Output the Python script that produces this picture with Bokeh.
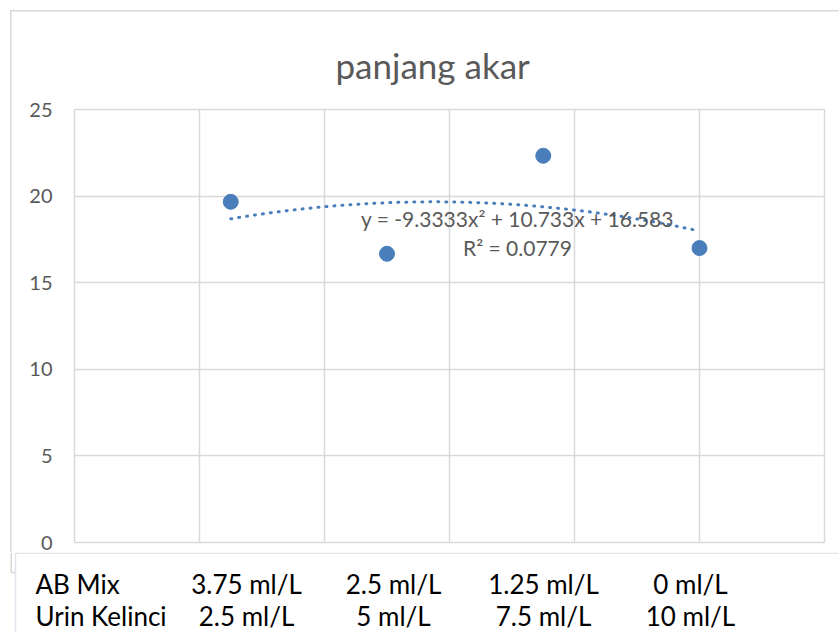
import numpy as np
from bokeh.plotting import figure
from bokeh.layouts import column
from bokeh.models import FixedTicker, Label, ColumnDataSource, Range1d
from bokeh.core.properties import value
from bokeh.embed import file_html
from bokeh.resources import INLINE

# ---- data ----
title_text = "panjang akar"
x_vals = [0.25, 0.5, 0.75, 1.0]
y_vals = [19.67, 16.67, 22.33, 17.0]
y_ticks = [0, 5, 10, 15, 20, 25]
x_grid = [0, 0.2, 0.4, 0.6, 0.8, 1.0, 1.2]
row_names = ["AB Mix", "Urin Kelinci"]
ab_mix = ["3.75 ml/L", "2.5 ml/L", "1.25 ml/L", "0 ml/L"]
urin = ["2.5 ml/L", "5 ml/L", "7.5 ml/L", "10 ml/L"]
eq_text = "y = -9.3333x² + 10.733x + 16.583"
r2_text = "R² = 0.0779"

FONT = "Lato"
TXT = "#595959"
BLUE = "#4a7ebb"
GRID = "#d9d9d9"
W, H = 839, 632
MAIN_H = 552
FL, FR, FT, FB = 74, 824, 109, 542   # frame edges in pixels


def dx(px):
    return (px - FL) / (FR - FL) * 1.2


def dy(py):
    return (FB - py) / (FB - FT) * 25


border_css = {
    "background-image": "linear-gradient(#d9d9d9,#d9d9d9), linear-gradient(#d9d9d9,#d9d9d9)",
    "background-size": "1.5px 100%, 100% 1.5px",
    "background-position": "10px 10px, 10px 10px",
    "background-repeat": "no-repeat",
}

p = figure(width=W, height=MAIN_H, output_backend="svg", toolbar_location=None,
           x_range=(0, 1.2), y_range=(0, 25),
           min_border_left=FL, min_border_right=W - FR,
           min_border_top=FT, min_border_bottom=MAIN_H - FB,
           border_fill_color=None, styles=border_css, frame_align=False)

p.title.text = title_text
p.title.align = "left"
p.title.offset = 261
p.title.text_font = FONT
p.title.text_font_size = "35px"
p.title.text_font_style = "normal"
p.title.text_color = TXT
p.title.standoff = 48

p.xaxis.visible = False
p.xgrid.ticker = FixedTicker(ticks=x_grid)
p.xgrid.grid_line_color = GRID
p.xgrid.grid_line_width = 1.5

p.yaxis.ticker = FixedTicker(ticks=y_ticks)
p.yaxis.axis_line_color = None
p.yaxis.major_tick_line_color = None
p.yaxis.minor_tick_line_color = None
p.yaxis.major_tick_out = 0
p.yaxis.major_label_standoff = 22
p.yaxis.major_label_text_font = FONT
p.yaxis.major_label_text_font_size = "20px"
p.yaxis.major_label_text_color = TXT
p.ygrid.grid_line_color = GRID
p.ygrid.grid_line_width = 1.5
p.outline_line_color = GRID
p.outline_line_width = 1.5

# polynomial trendline (order 2) computed from the data
coef = np.polyfit(x_vals, y_vals, 2)
xs = np.linspace(min(x_vals), max(x_vals), 120)
p.line(xs, np.polyval(coef, xs), line_color=BLUE, line_width=3,
       line_dash="1 7", line_cap="round")

src = ColumnDataSource(dict(x=x_vals, y=y_vals))
p.scatter("x", "y", source=src, size=15, fill_color=BLUE, line_color=BLUE)

p.add_layout(Label(x=dx(517), y=dy(218), text=eq_text, text_align="center",
                   text_baseline="middle", text_font=FONT,
                   text_font_size="21px", text_color=TXT))
p.add_layout(Label(x=dx(517), y=dy(247), text=r2_text, text_align="center",
                   text_baseline="middle", text_font=FONT,
                   text_font_size="21px", text_color=TXT))

# ---- pasted table under the chart ----
TH = H - MAIN_H
t = figure(width=W, height=TH, output_backend="svg", toolbar_location=None,
           x_range=Range1d(0, W), y_range=Range1d(TH, 0),
           min_border=0, x_axis_type=None, y_axis_type=None,
           frame_align=False)
t.grid.visible = False
t.outline_line_color = None
# continuation of the chart's outer border, then the white table box
t.line([10.75, 10.75, 16], [0, 20, 20], line_color=GRID, line_width=1.5)
t.quad(left=[15], right=[W + 20], top=[0.75], bottom=[TH + 20],
       fill_color="white", line_color="#e1e6ee", line_width=1.5)

col_centers = [246, 393, 543, 690]
row_y = [31, 63.5]
for ri, (name, vals) in enumerate(zip(row_names, [ab_mix, urin])):
    t.text(x=[35], y=[row_y[ri]], text=[name], text_align="left",
           text_baseline="middle", text_font=value(FONT),
           text_font_size="26px", text_color="black")
    t.text(x=col_centers, y=[row_y[ri]] * len(vals), text=vals,
           text_align="center", text_baseline="middle",
           text_font=value(FONT), text_font_size="26px", text_color="black")

layout = column(p, t, spacing=0)
open("out.html", "w").write(file_html(layout, INLINE))
